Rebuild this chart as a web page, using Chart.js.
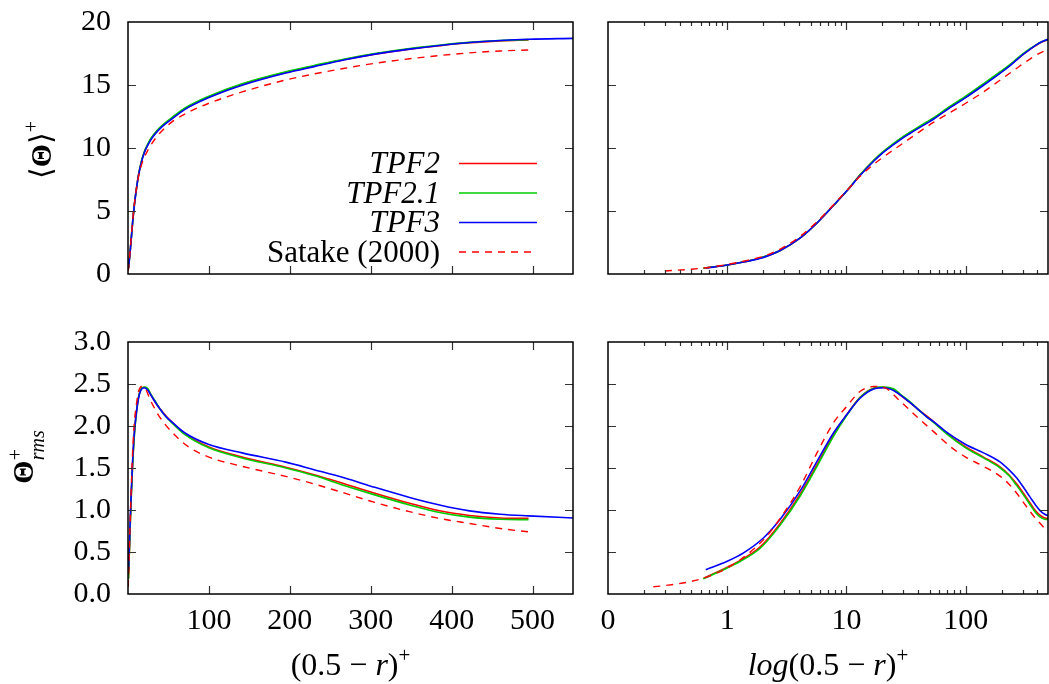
<!DOCTYPE html>
<html>
<head>
<meta charset="utf-8">
<script src="https://cdn.jsdelivr.net/npm/chart.js@4.4.1/dist/chart.umd.min.js"></script>
<style>
  html, body { margin: 0; padding: 0; background: #fff; }
  #wrap { position: relative; width: 1049px; height: 684px; overflow: hidden; background: #fff; }
  #wrap canvas { position: absolute; }
</style>
</head>
<body>
<div id="wrap">
  <canvas id="meanLin" width="590" height="360" style="left:0px;top:-30px"></canvas>
  <canvas id="meanLog" width="459" height="300" style="left:590px;top:0px"></canvas>
  <canvas id="rmsLin" width="590" height="384" style="left:0px;top:300px"></canvas>
  <canvas id="rmsLog" width="459" height="384" style="left:590px;top:300px"></canvas>
</div>
<script>
// ---- wall distance (0.5 - r)+ for each data set ----
const yPlusTPF2 = [0.63, 1.0, 1.29, 1.89, 2.78, 4.1, 5.66, 7.8, 10, 13, 16.9, 20.5, 25, 28.2, 34, 39, 47, 54, 70, 100, 141, 195, 230, 268, 305, 348, 385, 422, 460, 495];
const yPlusTPF3 = [0.66, 1.0, 1.37, 2.02, 2.78, 4.1, 5.66, 7.8, 10, 13, 16.9, 20.5, 25, 28.2, 34, 39, 47, 54, 70, 100, 141, 195, 230, 268, 305, 348, 385, 422, 460, 495, 550];
const yPlusSatake = [0.24, 0.3, 0.5, 0.7, 1.0, 1.5, 2.15, 3.0, 4.1, 5.66, 7.8, 10, 13, 16.9, 20.5, 28, 39, 54, 75, 100, 141, 195, 230, 268, 305, 348, 385, 422, 460, 495];

// ---- mean temperature <Theta>+ ----
const meanTPF2 = [0.45, 0.71, 0.91, 1.27, 1.87, 2.87, 4.05, 5.45, 6.56, 7.85, 9.0, 9.72, 10.33, 10.7, 11.2, 11.55, 12.0, 12.35, 13.1, 14.05, 15.05, 16.0, 16.5, 17.02, 17.45, 17.85, 18.12, 18.35, 18.5, 18.58];
const meanTPF21 = [0.45, 0.71, 0.91, 1.27, 1.87, 2.87, 4.05, 5.45, 6.57, 7.87, 9.03, 9.76, 10.38, 10.75, 11.25, 11.6, 12.06, 12.41, 13.16, 14.11, 15.1, 16.05, 16.55, 17.07, 17.5, 17.9, 18.16, 18.38, 18.53, 18.6];
const meanTPF3 = [0.47, 0.71, 0.95, 1.32, 1.86, 2.86, 4.05, 5.45, 6.56, 7.82, 8.95, 9.68, 10.28, 10.65, 11.15, 11.5, 11.95, 12.3, 13.05, 14.0, 14.98, 15.95, 16.46, 17.0, 17.45, 17.85, 18.14, 18.37, 18.53, 18.63, 18.7];
const meanSatake = [null, 0.24, 0.38, 0.52, 0.76, 1.1, 1.5, 2.15, 3.0, 4.15, 5.5, 6.6, 7.75, 8.7, 9.3, 10.2, 11.15, 12.05, 12.85, 13.55, 14.45, 15.4, 15.88, 16.33, 16.72, 17.08, 17.34, 17.55, 17.7, 17.78];

// ---- rms temperature fluctuation Theta+_rms ----
const rmsTPF2 = [0.186, 0.32, 0.40, 0.56, 0.84, 1.19, 1.54, 1.90, 2.13, 2.34, 2.45, 2.46, 2.43, 2.37, 2.28, 2.21, 2.12, 2.05, 1.91, 1.75, 1.63, 1.51, 1.42, 1.31, 1.20, 1.08, 0.99, 0.935, 0.905, 0.90];
const rmsTPF21 = [0.18, 0.31, 0.39, 0.545, 0.82, 1.17, 1.52, 1.88, 2.12, 2.34, 2.45, 2.465, 2.44, 2.38, 2.29, 2.21, 2.11, 2.04, 1.90, 1.74, 1.62, 1.50, 1.41, 1.29, 1.18, 1.06, 0.97, 0.915, 0.89, 0.885];
const rmsTPF3 = [0.29, 0.39, 0.49, 0.67, 0.89, 1.23, 1.58, 1.92, 2.13, 2.33, 2.44, 2.455, 2.42, 2.37, 2.28, 2.21, 2.11, 2.05, 1.92, 1.78, 1.68, 1.57, 1.48, 1.38, 1.27, 1.15, 1.06, 0.99, 0.95, 0.93, 0.905];
const rmsSatake = [0.087, 0.10, 0.15, 0.21, 0.31, 0.48, 0.69, 0.97, 1.28, 1.68, 2.04, 2.23, 2.41, 2.47, 2.46, 2.30, 2.11, 1.93, 1.75, 1.63, 1.52, 1.40, 1.31, 1.20, 1.09, 0.98, 0.90, 0.84, 0.78, 0.74];

// ---- series names and tick values ----
const seriesNames = ['TPF2', 'TPF2.1', 'TPF3', 'Satake (2000)'];
const meanTicks = [0, 5, 10, 15, 20];
const rmsTicks = [0, 0.5, 1.0, 1.5, 2.0, 2.5, 3.0];
const linTicks = [0, 100, 200, 300, 400, 500];
const logDecades = [0.1, 1, 10, 100];
const logTickLabels = ['0', '1', '10', '100'];

const LIN_MAX = 550;
const LOG_MIN = 0.1, LOG_MAX = 490;

const SERIF = '"Liberation Serif", "DejaVu Serif", serif';
const TICK_FONT = { family: SERIF, size: 30 };

function pts(xs, ys) {
  return xs.map((x, i) => ({ x: x, y: ys[i] }));
}

function datasets(kind) {
  const m = kind === 'mean';
  const common = { pointRadius: 0, borderWidth: 1.6, fill: false, cubicInterpolationMode: 'monotone', spanGaps: false };
  return [
    Object.assign({}, common, { label: seriesNames[0], italicLabel: true, order: 4, borderColor: '#ff0000',
      data: pts(yPlusTPF2, m ? meanTPF2 : rmsTPF2) }),
    Object.assign({}, common, { label: seriesNames[1], italicLabel: true, order: 3, borderColor: '#00cc00',
      data: pts(yPlusTPF2, m ? meanTPF21 : rmsTPF21) }),
    Object.assign({}, common, { label: seriesNames[2], italicLabel: true, order: 2, borderColor: '#0000ff',
      data: pts(yPlusTPF3, m ? meanTPF3 : rmsTPF3) }),
    Object.assign({}, common, { label: seriesNames[3], italicLabel: false, order: 1, borderColor: '#ff0000',
      borderWidth: 1.4, borderDash: [7, 6], data: pts(yPlusSatake, m ? meanSatake : rmsSatake) })
  ];
}

// inward tick marks on all four sides plus the black frame
const framePlugin = {
  id: 'frame',
  afterDatasetsDraw(chart) {
    const ctx = chart.ctx, a = chart.chartArea, sx = chart.scales.x, sy = chart.scales.y;
    ctx.save();
    ctx.strokeStyle = '#333';
    ctx.lineWidth = 1.2;
    ctx.setLineDash([]);
    ctx.beginPath();
    sx.ticks.forEach(t => {
      const px = Math.round(sx.getPixelForValue(t.value)) + 0.5;
      if (px <= a.left + 1.5 || px >= a.right - 1.5) return;
      const len = t.major === false ? 4 : 8;
      ctx.moveTo(px, a.bottom); ctx.lineTo(px, a.bottom - len);
      ctx.moveTo(px, a.top); ctx.lineTo(px, a.top + len);
    });
    sy.ticks.forEach(t => {
      const py = Math.round(sy.getPixelForValue(t.value)) + 0.5;
      if (py <= a.top + 1.5 || py >= a.bottom - 1.5) return;
      ctx.moveTo(a.left, py); ctx.lineTo(a.left + 8, py);
      ctx.moveTo(a.right, py); ctx.lineTo(a.right - 8, py);
    });
    ctx.stroke();
    ctx.strokeStyle = '#000';
    ctx.lineWidth = 1.5;
    ctx.strokeRect(a.left, a.top, a.right - a.left, a.bottom - a.top);
    ctx.restore();
  }
};

// legend with text on the left and line sample on the right
const sideLegendPlugin = {
  id: 'sideLegend',
  afterDraw(chart, args, opts) {
    if (!opts || !opts.show) return;
    const ctx = chart.ctx;
    ctx.save();
    chart.data.datasets.forEach((ds, i) => {
      const y = opts.y0 + i * opts.dy;
      ctx.font = (ds.italicLabel ? 'italic ' : '') + '31px ' + SERIF;
      ctx.textAlign = 'right';
      ctx.textBaseline = 'alphabetic';
      ctx.fillStyle = '#000';
      ctx.fillText(ds.label, opts.textRight, y + 10);
      ctx.strokeStyle = ds.borderColor;
      ctx.lineWidth = ds.borderWidth;
      ctx.setLineDash(ds.borderDash || []);
      ctx.beginPath();
      ctx.moveTo(opts.x0, y + 0.5);
      ctx.lineTo(opts.x1, y + 0.5);
      ctx.stroke();
    });
    ctx.restore();
  }
};

// axis titles with mixed fonts, sub- and superscripts
function drawRich(ctx, parts, x, y, rotate) {
  ctx.save();
  ctx.translate(x, y);
  if (rotate) ctx.rotate(-Math.PI / 2);
  let cursor = 0, prevStart = 0;
  const items = [];
  parts.forEach(p => {
    ctx.font = p.font;
    const w = ctx.measureText(p.t).width;
    let x0;
    if (p.overlay) { x0 = prevStart; cursor = Math.max(cursor, x0 + w); }
    else { x0 = cursor; cursor += w; }
    prevStart = x0;
    items.push({ p: p, x0: x0 });
  });
  const total = cursor;
  ctx.fillStyle = '#000';
  ctx.textAlign = 'left';
  ctx.textBaseline = 'alphabetic';
  items.forEach(it => {
    ctx.font = it.p.font;
    ctx.fillText(it.p.t, it.x0 - total / 2, it.p.dy || 0);
  });
  ctx.restore();
}

const richTitlePlugin = {
  id: 'richTitles',
  afterDraw(chart, args, opts) {
    if (!opts || !opts.items) return;
    opts.items.forEach(it => drawRich(chart.ctx, it.parts, it.x, it.y, it.rotate));
  }
};

function linearX(showLabels, axisH) {
  return {
    type: 'linear', min: 0, max: LIN_MAX,
    afterBuildTicks: s => { s.ticks = linTicks.map(v => ({ value: v })); },
    ticks: { display: showLabels, font: TICK_FONT, color: '#000', padding: 9, maxRotation: 0, minRotation: 0, autoSkip: false,
      callback: v => (v === 0 ? '' : String(v)) },
    grid: { display: false, drawTicks: false },
    border: { display: false },
    afterFit: s => { s.height = axisH; }
  };
}

function logX(showLabels, axisH) {
  return {
    type: 'logarithmic', min: LOG_MIN, max: LOG_MAX,
    afterBuildTicks: s => {
      const t = [];
      logDecades.forEach(d => {
        for (let k = 1; k <= 9; k++) {
          const v = k * d;
          if (v <= LOG_MAX) t.push({ value: v, major: k === 1 });
        }
      });
      s.ticks = t;
    },
    ticks: { display: showLabels, font: TICK_FONT, color: '#000', padding: 9, maxRotation: 0, minRotation: 0, autoSkip: false,
      callback: v => {
        const i = logDecades.findIndex(d => Math.abs(d - v) < d * 1e-6);
        return i >= 0 ? logTickLabels[i] : '';
      } },
    grid: { display: false, drawTicks: false },
    border: { display: false },
    afterFit: s => { s.height = axisH; }
  };
}

function yAxis(min, max, tickVals, showLabels, axisW, fmt) {
  return {
    type: 'linear', min: min, max: max,
    afterBuildTicks: s => { s.ticks = tickVals.map(v => ({ value: v })); },
    ticks: { display: showLabels, font: TICK_FONT, color: '#000', padding: 17, callback: fmt },
    grid: { display: false, drawTicks: false },
    border: { display: false },
    afterFit: s => { s.width = axisW; }
  };
}

function makeChart(id, kind, xScale, yScale, padding, extraPlugins) {
  return new Chart(document.getElementById(id), {
    type: 'line',
    data: { datasets: datasets(kind) },
    options: {
      responsive: false,
      animation: false,
      devicePixelRatio: 1,
      layout: { padding: padding },
      scales: { x: xScale, y: yScale },
      plugins: Object.assign({ legend: { display: false }, tooltip: { enabled: false } }, extraPlugins)
    },
    plugins: [framePlugin, sideLegendPlugin, richTitlePlugin]
  });
}

const R = s => s + 'px ' + SERIF;

// top left: mean temperature, linear wall distance (canvas starts 30px above the page top)
makeChart('meanLin', 'mean', linearX(false, 56), yAxis(0, 20, meanTicks, true, 128, v => String(v)),
  { top: 52, right: 17, left: 0, bottom: 0 },
  {
    sideLegend: { show: true, textRight: 440, x0: 459, x1: 537, y0: 193, dy: 29.5 },
    richTitles: { items: [
      { x: 51, y: 180, rotate: true, parts: [
        { t: '\u27E8', font: R(30) },
        { t: '\u0398', font: 'bold ' + R(30) },
        { t: '\u27E9', font: R(30) },
        { t: '+', font: R(20), dy: -13 }
      ] }
    ] }
  });

// top right: mean temperature, logarithmic wall distance
makeChart('meanLog', 'mean', logX(false, 26), yAxis(0, 20, meanTicks, false, 18, v => ''),
  { top: 22, right: 1, left: 0, bottom: 0 }, {});

// bottom left: rms temperature, linear wall distance
makeChart('rmsLin', 'rms', linearX(true, 90), yAxis(0, 3, rmsTicks, true, 128, v => v.toFixed(1)),
  { top: 42, right: 17, left: 0, bottom: 0 },
  {
    richTitles: { items: [
      { x: 33, y: 157, rotate: true, parts: [
        { t: '\u0398', font: 'bold ' + R(30) },
        { t: '+', font: R(20), dy: -11 },
        { t: 'rms', font: 'italic ' + R(20), dy: 11, overlay: true }
      ] },
      { x: 350.5, y: 375, rotate: false, parts: [
        { t: '(0.5 \u2212 ', font: R(32) },
        { t: 'r', font: 'italic ' + R(32) },
        { t: ')', font: R(32) },
        { t: '+', font: R(21), dy: -13 }
      ] }
    ] }
  });

// bottom right: rms temperature, logarithmic wall distance
makeChart('rmsLog', 'rms', logX(true, 90), yAxis(0, 3, rmsTicks, false, 18, v => ''),
  { top: 42, right: 1, left: 0, bottom: 0 },
  {
    richTitles: { items: [
      { x: 238, y: 375, rotate: false, parts: [
        { t: 'log', font: 'italic ' + R(32) },
        { t: '(0.5 \u2212 ', font: R(32) },
        { t: 'r', font: 'italic ' + R(32) },
        { t: ')', font: R(32) },
        { t: '+', font: R(21), dy: -13 }
      ] }
    ] }
  });
</script>
</body>
</html>
